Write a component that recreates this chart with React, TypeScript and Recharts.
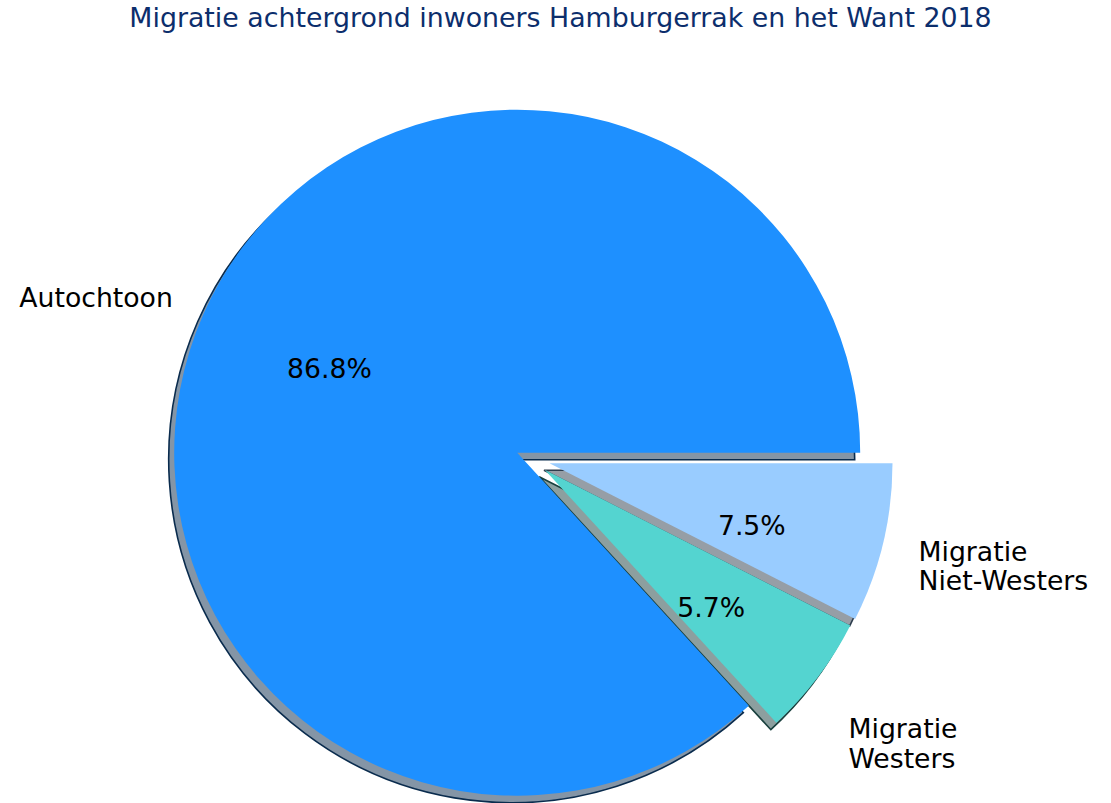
import React from 'react';
import { PieChart, Pie, Cell } from 'recharts';

// ---- data ----
const CATEGORIES = ['Autochtoon', 'Migratie Westers', 'Migratie Niet-Westers'];
const LABEL_LINES = [['Autochtoon'], ['Migratie', 'Westers'], ['Migratie', 'Niet-Westers']];
const VALUES = [86.8, 5.7, 7.5];
const TITLE = 'Migratie achtergrond inwoners Hamburgerrak en het Want 2018';

// ---- styles / layout ----
const COLORS = ['#1E90FF', '#54D4D0', '#99CCFF'];
// explode offsets (pixels, screen direction) per slice
const EXPLODE_OFFSET = [
  { dx: 0, dy: 0 },
  { dx: 27.5, dy: 17 },
  { dx: 32.3, dy: 10.6 },
];
const W = 1111;
const H = 803;
const CX = 517.2;
const CY = 452.7;
const R = 343;
const SHADOW_DX = -5.5;
const SHADOW_DY = 7;
const FONT = '"DejaVu Sans", Verdana, sans-serif';
const FS = 26.7;
const LABEL_NUDGE = [
  { dx: 1, dy: 0 },
  { dx: 3.5, dy: 48.5 },
  { dx: 2.1, dy: 17.6 },
];
const PCT_NUDGE = [
  { dx: 0.6, dy: 1.1 },
  { dx: 2.6, dy: 16.2 },
  { dx: 2.2, dy: 16.9 },
];

const RAD = Math.PI / 180;

function hexToRgb(h: string) {
  const n = parseInt(h.slice(1), 16);
  return [(n >> 16) & 255, (n >> 8) & 255, n & 255];
}
function rgb(a: number[]) {
  return `rgb(${a.map((v) => Math.round(v)).join(',')})`;
}
function shadowStroke(c: string) {
  return rgb(hexToRgb(c).map((v) => v * 0.3));
}
function shadowFill(c: string) {
  return rgb(hexToRgb(c).map((v) => v * 0.3 * 0.5 + 255 * 0.5));
}

const total = VALUES.reduce((a, b) => a + b, 0);
let cum = 0;
const SLICES = VALUES.map((v, i) => {
  const start = (cum / total) * 360;
  cum += v;
  const end = (cum / total) * 360;
  const mid = (start + end) / 2;
  return {
    i,
    name: CATEGORIES[i],
    value: v,
    pct: (v / total) * 100,
    start,
    end,
    mid,
    cx: CX + EXPLODE_OFFSET[i].dx,
    cy: CY + EXPLODE_OFFSET[i].dy,
  };
});

function makeLabel(s: (typeof SLICES)[number]) {
  return () => {
    const c = Math.cos(s.mid * RAD);
    const sn = Math.sin(s.mid * RAD);
    const lx = s.cx + 1.1 * R * c + LABEL_NUDGE[s.i].dx;
    const ly = s.cy - 1.1 * R * sn + LABEL_NUDGE[s.i].dy;
    const px = s.cx + 0.6 * R * c + PCT_NUDGE[s.i].dx;
    const py = s.cy - 0.6 * R * sn + PCT_NUDGE[s.i].dy;
    const lines = LABEL_LINES[s.i];
    const lh = 29.5;
    const firstBase = ly + 6.8 - ((lines.length - 1) * 30) / 2;
    return (
      <g>
        <text
          x={lx}
          y={firstBase}
          textAnchor={c >= 0 ? 'start' : 'end'}
          fontFamily={FONT}
          fontSize={FS}
          fill="#000"
        >
          {lines.map((ln, k) => (
            <tspan key={k} x={lx} y={firstBase + k * lh}>
              {ln}
            </tspan>
          ))}
        </text>
        <text
          x={px}
          y={py + 6.8}
          textAnchor="middle"
          fontFamily={FONT}
          fontSize={FS}
          fill="#000"
        >
          {`${s.pct.toFixed(1)}%`}
        </text>
      </g>
    );
  };
}

export default function App() {
  return (
    <div
      style={{
        position: 'absolute',
        left: 0,
        top: 0,
        width: W,
        height: H,
        background: '#fff',
        overflow: 'hidden',
      }}
    >
      <div
        style={{
          position: 'absolute',
          left: 0,
          top: 2.4,
          width: 1121,
          textAlign: 'center',
          fontFamily: FONT,
          fontSize: 26.8,
          lineHeight: `${26.8 * 1.164}px`,
          color: '#0c2e6c',
          whiteSpace: 'nowrap',
        }}
      >
        {TITLE}
      </div>
      <div style={{ position: 'absolute', left: 0, top: 0 }}>
        <PieChart width={W} height={H} margin={{ top: 0, right: 0, bottom: 0, left: 0 }}>
          {SLICES.map((s) => (
            <Pie
              key={`sh-${s.i}`}
              data={[{ name: s.name, value: s.value }]}
              dataKey="value"
              nameKey="name"
              cx={s.cx + SHADOW_DX}
              cy={s.cy + SHADOW_DY}
              innerRadius={0}
              outerRadius={R}
              startAngle={s.start}
              endAngle={s.end}
              paddingAngle={0}
              isAnimationActive={false}
              labelLine={false}
              label={false}
            >
              <Cell
                fill={shadowFill(COLORS[s.i])}
                stroke={shadowStroke(COLORS[s.i])}
                strokeWidth={1.6}
              />
            </Pie>
          ))}
          {SLICES.map((s) => (
            <Pie
              key={`pie-${s.i}`}
              data={[{ name: s.name, value: s.value }]}
              dataKey="value"
              nameKey="name"
              cx={s.cx}
              cy={s.cy}
              innerRadius={0}
              outerRadius={R}
              startAngle={s.start}
              endAngle={s.end}
              paddingAngle={0}
              isAnimationActive={false}
              labelLine={false}
              label={makeLabel(s)}
            >
              <Cell fill={COLORS[s.i]} stroke="none" />
            </Pie>
          ))}
        </PieChart>
      </div>
    </div>
  );
}
